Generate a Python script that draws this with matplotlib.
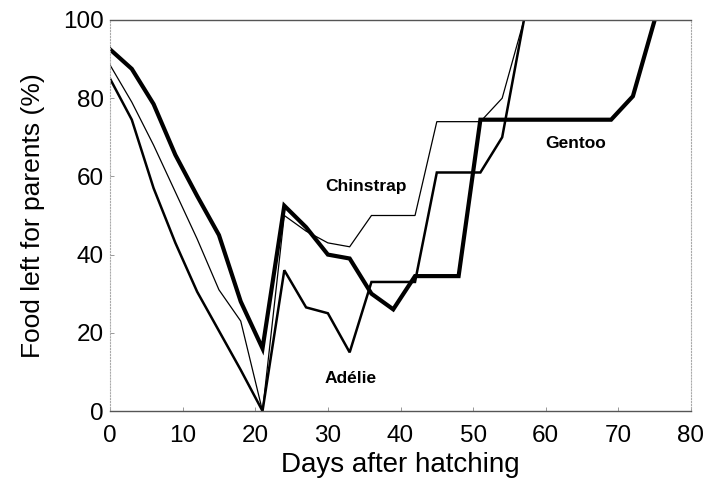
import matplotlib
matplotlib.use("Agg")
import matplotlib.pyplot as plt

# Days after hatching (3-day steps)
days_gentoo = [0, 3, 6, 9, 12, 15, 18, 21, 24, 27, 30, 33, 36, 39, 42, 45, 48, 51,
               54, 57, 60, 63, 66, 69, 72, 75]
gentoo = [92.5, 87.5, 78.5, 65.5, 55, 45, 28, 16, 52.5, 47, 40, 39, 30, 26, 34.5, 34.5, 34.5, 74.5,
          74.5, 74.5, 74.5, 74.5, 74.5, 74.5, 80.5, 100]

days_chinstrap = [0, 3, 6, 9, 12, 15, 18, 21, 24, 27, 30, 33, 36, 39, 42, 45, 48, 51, 54, 57]
chinstrap = [88.5, 79, 68, 56, 44, 31, 23, 0, 50, 46, 43, 42, 50, 50, 50, 74, 74, 74, 80, 100]

days_adelie = [0, 3, 6, 9, 12, 15, 18, 21, 24, 27, 30, 33, 36, 39, 42, 45, 48, 51, 54, 57]
adelie = [85, 74.5, 57, 43, 30.5, 20.5, 10.5, 0, 36, 26.5, 25, 15, 33, 33, 33, 61, 61, 61, 70, 100]

x_ticks = [0, 10, 20, 30, 40, 50, 60, 70, 80]
y_ticks = [0, 20, 40, 60, 80, 100]

plt.rcParams['font.family'] = ['Liberation Sans', 'DejaVu Sans']

fig = plt.figure(figsize=(7.10, 4.88), dpi=100)
ax = fig.add_axes([110 / 710, 1 - 411 / 488, 581 / 710, 391 / 488])

ax.plot(days_chinstrap, chinstrap, color='black', lw=0.9, solid_joinstyle='miter')
ax.plot(days_adelie, adelie, color='black', lw=1.8, solid_joinstyle='miter')
ax.plot(days_gentoo, gentoo, color='black', lw=3.0, solid_joinstyle='miter')

ax.set_xlim(0, 80)
ax.set_ylim(0, 100)
ax.set_xticks(x_ticks)
ax.set_yticks(y_ticks)
ax.tick_params(direction='in', length=3, width=0.6, color='#888888', labelsize=17.5)
ax.tick_params(axis='x', pad=10)
ax.tick_params(axis='y', pad=4.5)

for side in ['top', 'bottom']:
    ax.spines[side].set_color('#555555')
    ax.spines[side].set_linewidth(1.0)
for side in ['left', 'right']:
    ax.spines[side].set_color('#aaaaaa')
    ax.spines[side].set_linewidth(0.8)
    ax.spines[side].set_linestyle(':')

ax.set_xlabel('Days after hatching', fontsize=20, labelpad=4)
ax.set_ylabel('Food left for parents (%)', fontsize=19, labelpad=13)

ax.text(35.2, 57.3, 'Chinstrap', fontsize=12.5, fontweight='bold', ha='center', va='center')
ax.text(33.2, 8.4, 'Adélie', fontsize=12.5, fontweight='bold', ha='center', va='center')
ax.text(64.1, 68.3, 'Gentoo', fontsize=12.5, fontweight='bold', ha='center', va='center')

fig.savefig('out.png', dpi=100)
